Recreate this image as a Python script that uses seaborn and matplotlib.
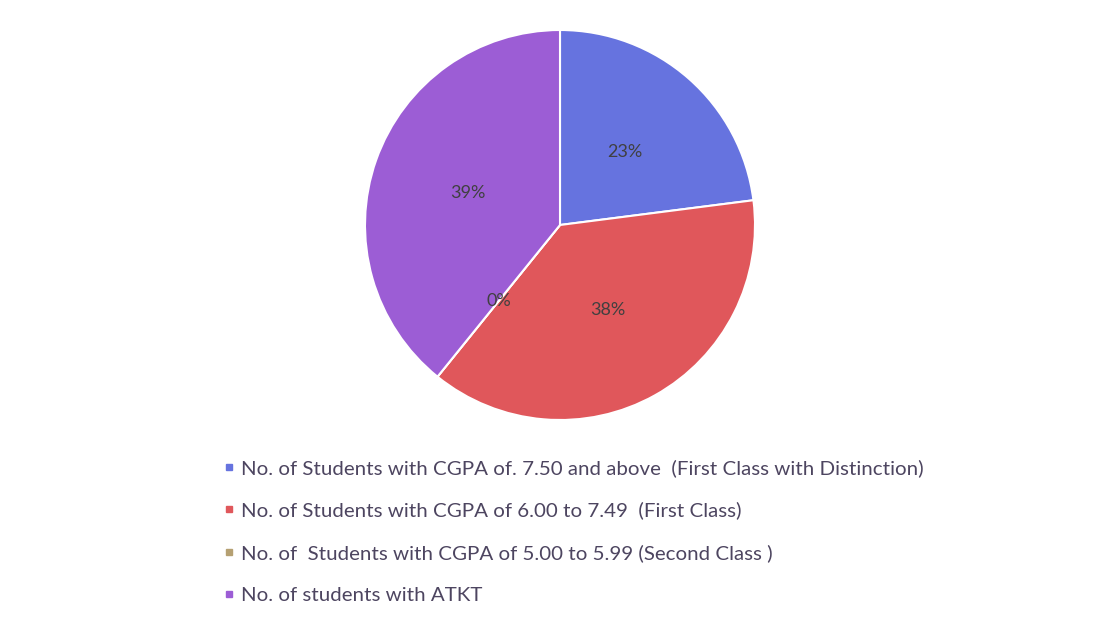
import matplotlib
matplotlib.use('Agg')
import matplotlib.pyplot as plt
from matplotlib.lines import Line2D
import seaborn as sns

labels = ['No. of Students with CGPA of. 7.50 and above  (First Class with Distinction)',
          'No. of Students with CGPA of 6.00 to 7.49  (First Class)',
          'No. of  Students with CGPA of 5.00 to 5.99 (Second Class )',
          'No. of students with ATKT']
counts = [17, 28, 0, 29]
colors = ['#6673DF', '#E0575B', '#B5A072', '#9C5DD5']

sns.set_theme(style='white')
plt.rcParams['font.family'] = ['Lato', 'DejaVu Sans']

fig = plt.figure(figsize=(11.06, 6.25), dpi=100)
fig.patch.set_facecolor('white')

# pie centre ~(560,225) px, radius ~195 px
cx, cy, r = 560, 225, 195
ax = fig.add_axes([(cx - r) / 1106, (625 - cy - r) / 625, 2 * r / 1106, 2 * r / 625])
wedges, texts, autotexts = ax.pie(counts, colors=colors, startangle=90, counterclock=False,
                                  autopct=lambda p: f'{p:.0f}%', pctdistance=0.5,
                                  wedgeprops=dict(edgecolor='white', linewidth=1.5),
                                  textprops=dict(color='#404040', fontsize=13))
ax.set_xlim(-1, 1)
ax.set_ylim(-1, 1)
ax.set_aspect('equal')

handles = [Line2D([0], [0], marker='s', linestyle='none', markersize=5,
                  markerfacecolor=c, markeredgecolor=c) for c in colors]
fig.legend(handles, labels, loc='upper left', bbox_to_anchor=(214 / 1106, 1 - 451 / 625),
           frameon=False, fontsize=14.75, labelcolor='#4d4560', handletextpad=0.2,
           handlelength=0.7, labelspacing=1.2, borderaxespad=0)

fig.savefig('out.png', dpi=100, facecolor='white')
